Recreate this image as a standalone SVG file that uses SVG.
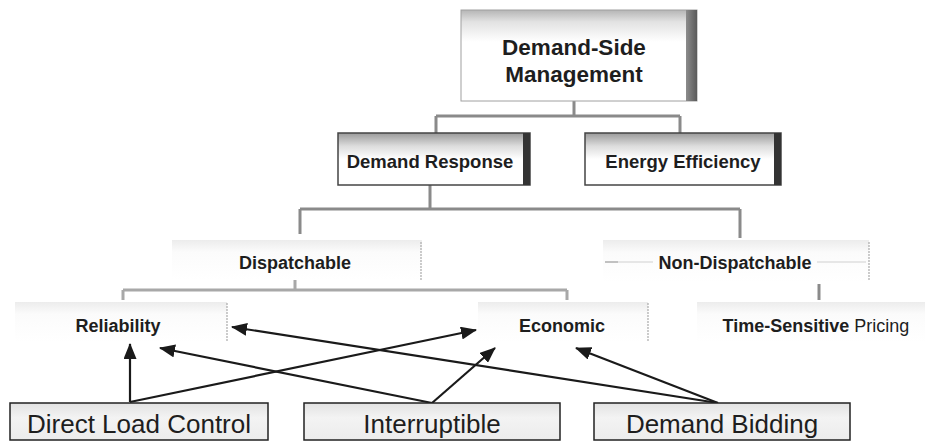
<svg xmlns="http://www.w3.org/2000/svg" width="927" height="443" viewBox="0 0 927 443">
<style>
.b{font-family:"Liberation Sans",Arial,sans-serif;font-weight:bold;fill:#1e1e1e;text-anchor:middle}
.r{font-family:"Liberation Sans",Arial,sans-serif;fill:#1e1e1e;text-anchor:middle;font-size:26px}
.tree{fill:none;stroke:#8a8a8a;stroke-width:3}
.tree2{fill:none;stroke:#a8a8a8;stroke-width:3}
.faint{fill:url(#gFaint)}
.fedge{stroke:#aaa;stroke-width:1.2;stroke-dasharray:2 1;fill:none}
.arr{stroke:#1a1a1a;stroke-width:2.2;fill:none;marker-end:url(#ah)}
.bot{fill:url(#gBot);stroke:#222;stroke-width:1.5}
</style>
<defs>
<linearGradient id="gTop" x1="0" y1="0" x2="0" y2="1">
<stop offset="0" stop-color="#b5b5b5"/><stop offset="0.13" stop-color="#e2e2e2"/><stop offset="0.35" stop-color="#fff"/><stop offset="1" stop-color="#fff"/>
</linearGradient>
<linearGradient id="gMid" x1="0" y1="0" x2="0" y2="1">
<stop offset="0" stop-color="#9a9a9a"/><stop offset="0.25" stop-color="#dcdcdc"/><stop offset="0.5" stop-color="#fff"/><stop offset="1" stop-color="#fff"/>
</linearGradient>
<linearGradient id="gShadow" x1="0" y1="0" x2="1" y2="0">
<stop offset="0" stop-color="#8c8c8c"/><stop offset="1" stop-color="#5a5a5a"/>
</linearGradient>
<linearGradient id="gFaint" x1="0" y1="0" x2="0" y2="1">
<stop offset="0" stop-color="#ececec"/><stop offset="0.3" stop-color="#fbfbfb"/><stop offset="1" stop-color="#fff"/>
</linearGradient>
<linearGradient id="gBot" x1="0" y1="0" x2="0" y2="1">
<stop offset="0" stop-color="#e2e2e2"/><stop offset="0.4" stop-color="#f3f3f3"/><stop offset="1" stop-color="#ececec"/>
</linearGradient>
<marker id="ah" markerUnits="userSpaceOnUse" markerWidth="16" markerHeight="13" refX="15" refY="6.5" orient="auto">
<path d="M0,0 L16,6.5 L0,13 z" fill="#1a1a1a"/>
</marker>
</defs>

<g id="connectors">
<path class="tree" d="M574 101 V116 M436 116 H680 M436 116 V133 M680 116 V133"/>
<path class="tree" d="M430 185 V209 M300 209 H740 M300 209 V234 M740 209 V238"/>
<path class="tree2" d="M295 280 V290 M123 290 H567 M123 290 V300 M567 290 V300"/>
<path class="tree" d="M819 284 V300"/>
<path class="arr" d="M130 402 L130 344"/>
<path class="arr" d="M130 402 L476 330"/>
<path class="arr" d="M432 403 L160 348"/>
<path class="arr" d="M432 403 L495 348"/>
<path class="arr" d="M718 403 L232 327"/>
<path class="arr" d="M718 403 L576 348"/>
</g>

<g id="dsm">
<rect x="461" y="10" width="236" height="91" fill="url(#gTop)" stroke="#a0a0a0" stroke-width="1"/>
<rect x="686" y="10" width="11" height="91" fill="url(#gShadow)"/>
<text class="b" x="574" y="55" font-size="22.5">Demand-Side</text>
<text class="b" x="574" y="82" font-size="22.5">Management</text>
</g>

<g id="demand-response">
<rect x="338" y="133" width="192" height="52" fill="url(#gMid)" stroke="#444" stroke-width="1.5"/>
<rect x="523" y="133" width="7" height="52" fill="#333"/>
<text class="b" x="430" y="168" font-size="18.5">Demand Response</text>
</g>

<g id="energy-efficiency">
<rect x="585" y="133" width="196" height="52" fill="url(#gMid)" stroke="#444" stroke-width="1.5"/>
<rect x="774" y="133" width="7" height="52" fill="#333"/>
<text class="b" x="683" y="168" font-size="18.5">Energy Efficiency</text>
</g>

<g id="dispatchable">
<rect class="faint" x="172" y="240" width="250" height="40"/>
<path class="fedge" d="M421 242 V280"/>
<text class="b" x="295" y="269" font-size="18">Dispatchable</text>
</g>

<g id="non-dispatchable">
<rect class="faint" x="603" y="240" width="266" height="42"/>
<path class="fedge" d="M869 242 V281"/>
<path d="M605 262 H618" stroke="#999" stroke-width="1.2"/>
<path d="M618 262 H653 M817 262 H866" stroke="#d0d0d0" stroke-width="1"/>
<text class="b" x="735" y="269" font-size="18">Non-Dispatchable</text>
</g>

<g id="reliability">
<rect class="faint" x="15" y="302" width="212" height="40"/>
<path class="fedge" d="M227 303 V342"/>
<text class="b" x="118" y="332" font-size="18">Reliability</text>
</g>

<g id="economic">
<rect class="faint" x="478" y="302" width="170" height="40"/>
<path class="fedge" d="M648 303 V342"/>
<text class="b" x="562" y="332" font-size="18">Economic</text>
</g>

<g id="time-sensitive-pricing">
<rect class="faint" x="697" y="302" width="228" height="40"/>
<text class="b" x="816" y="332" font-size="18">Time-Sensitive <tspan font-weight="normal">Pricing</tspan></text>
</g>

<g id="direct-load-control">
<rect class="bot" x="10" y="403" width="258" height="37"/>
<text class="r" x="139" y="433">Direct Load Control</text>
</g>

<g id="interruptible">
<rect class="bot" x="304" y="403" width="256" height="37"/>
<text class="r" x="432" y="433">Interruptible</text>
</g>

<g id="demand-bidding">
<rect class="bot" x="594" y="403" width="256" height="37"/>
<text class="r" x="722" y="433">Demand Bidding</text>
</g>
</svg>
